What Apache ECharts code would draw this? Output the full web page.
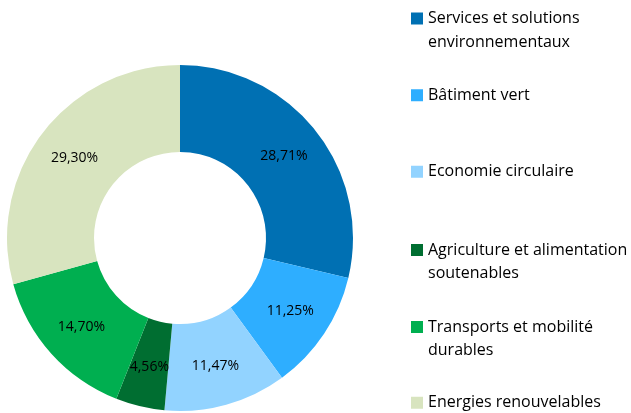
<!DOCTYPE html>
<html><head><meta charset="utf-8">
<script src="https://cdn.jsdelivr.net/npm/echarts@6/dist/echarts.min.js"></script>
<style>html,body{margin:0;padding:0;background:#fff}#c{width:631px;height:413px}</style>
</head><body><div id="c"></div>
<script>
const categories = ['Services et solutions\nenvironnementaux','Bâtiment vert','Economie circulaire','Agriculture et alimentation\nsoutenables','Transports et mobilité\ndurables','Energies renouvelables'];
const values = [28.71, 11.25, 11.47, 4.56, 14.70, 29.30];
const colors = ['#0070B3','#2EAEFF','#92D3FF','#006E31','#00AF50','#D8E4BF'];

const FONT = 'Open Sans';
const legendMarkerY = [18.5, 95.5, 172, 250, 327, 403];
const legends = categories.map((n, i) => {
  const two = n.indexOf('\n') >= 0;
  return {
    orient:'vertical', left:411, top: legendMarkerY[i] - 12, padding:0,
    itemWidth:12, itemHeight: two ? 48 : 12,
    icon: two ? 'path://M0,0 M0,6 L12,6 L12,18 L0,18 Z M12,48' : 'rect',
    data:[n],
    textStyle:{fontFamily:FONT, fontSize:16, color:'#000', lineHeight:23.5}
  };
});

const chart = echarts.init(document.getElementById('c'), null, {renderer:'canvas'});
chart.setOption({
  animation:false,
  color: colors,
  legend: legends,
  series:[{
    type:'pie', center:[180,238], radius:[86,173], startAngle:90, clockwise:true,
    label:{position:'inside', color:'#000', fontFamily:FONT, fontSize:14,
      formatter: p => p.value.toFixed(2).replace('.', ',') + '%'},
    labelLine:{show:false},
    data: categories.map((n,i)=>({name:n, value:values[i]}))
  }]
});
</script></body></html>
